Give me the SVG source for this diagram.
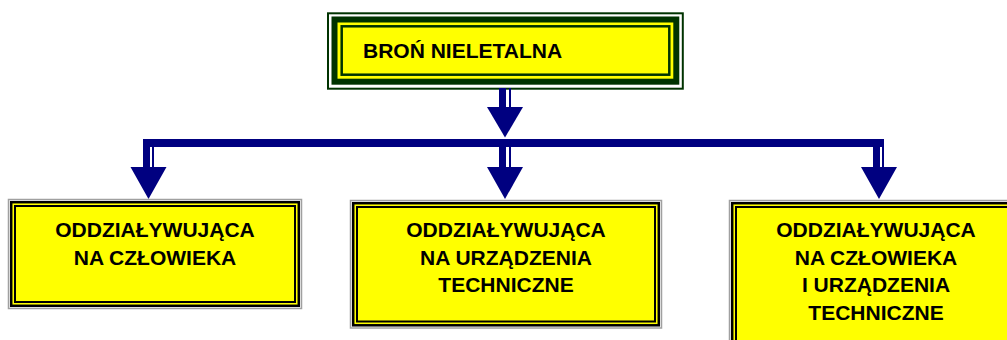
<svg xmlns="http://www.w3.org/2000/svg" width="1007" height="340" viewBox="0 0 1007 340">
<style>
.t{font-family:"Liberation Sans",Arial,sans-serif;font-weight:bold;font-size:21px;fill:#000}
.c{text-anchor:middle}
.g{fill:#fff;stroke:#a0a0a0;stroke-width:1.5}
.ob{fill:#ffff00;stroke:#000;stroke-width:2.5}
.ib{fill:#ffff00;stroke:#000;stroke-width:2}
.arr{fill:#000080}
</style>
<rect width="1007" height="340" fill="#fff"/>
<g id="root">
<rect x="328" y="13.3" width="354.8" height="75.4" fill="#fff" stroke="#003300" stroke-width="2"/>
<rect x="334.5" y="19.5" width="341.8" height="62.2" fill="#ffff00" stroke="#003300" stroke-width="6"/>
<rect x="341.7" y="26.3" width="327.6" height="48.4" fill="#ffff00" stroke="#003300" stroke-width="2.5"/>
<text class="t" x="363" y="58">BROŃ NIELETALNA</text>
</g>
<g id="connectors">
<rect class="arr" x="499" y="88" width="7" height="20"/>
<rect class="arr" x="509" y="88" width="2" height="20"/>
<polygon class="arr" points="487,107 523,107 505,137.5"/>
<rect class="arr" x="143" y="139" width="741" height="8"/>
<rect class="arr" x="143" y="139" width="7" height="29"/>
<rect class="arr" x="152" y="146" width="2" height="22"/>
<polygon class="arr" points="130.5,167 166.5,167 148.5,199"/>
<rect class="arr" x="499" y="146" width="7" height="22"/>
<rect class="arr" x="509" y="146" width="2" height="22"/>
<polygon class="arr" points="487,167 523,167 505,199"/>
<rect class="arr" x="873" y="139" width="7" height="29"/>
<rect class="arr" x="882" y="139" width="2" height="29"/>
<polygon class="arr" points="861,167 897,167 879,199"/>
</g>
<g id="box1">
<rect class="g" x="8.5" y="199.5" width="293" height="109"/>
<rect class="ob" x="11.2" y="202.2" width="287.6" height="103.6"/>
<rect class="ib" x="15" y="206" width="280" height="96"/>
<text class="t c" x="155" y="237">ODDZIAŁYWUJĄCA</text>
<text class="t c" x="155" y="265">NA CZŁOWIEKA</text>
</g>
<g id="box2">
<rect class="g" x="350.5" y="200.5" width="311" height="127.5"/>
<rect class="ob" x="353.2" y="203.2" width="305.6" height="122.1"/>
<rect class="ib" x="357" y="207" width="298" height="114.5"/>
<text class="t c" x="506" y="237">ODDZIAŁYWUJĄCA</text>
<text class="t c" x="506" y="264.8">NA URZĄDZENIA</text>
<text class="t c" x="506" y="292.3">TECHNICZNE</text>
</g>
<g id="box3">
<rect class="g" x="729.5" y="200.5" width="293" height="150"/>
<rect class="ob" x="732.2" y="203.2" width="287.6" height="144.6"/>
<rect class="ib" x="736" y="207" width="280" height="137"/>
<text class="t c" x="876" y="237">ODDZIAŁYWUJĄCA</text>
<text class="t c" x="876" y="264.6">NA CZŁOWIEKA</text>
<text class="t c" x="876" y="292.3">I URZĄDZENIA</text>
<text class="t c" x="876" y="320">TECHNICZNE</text>
</g>
</svg>
